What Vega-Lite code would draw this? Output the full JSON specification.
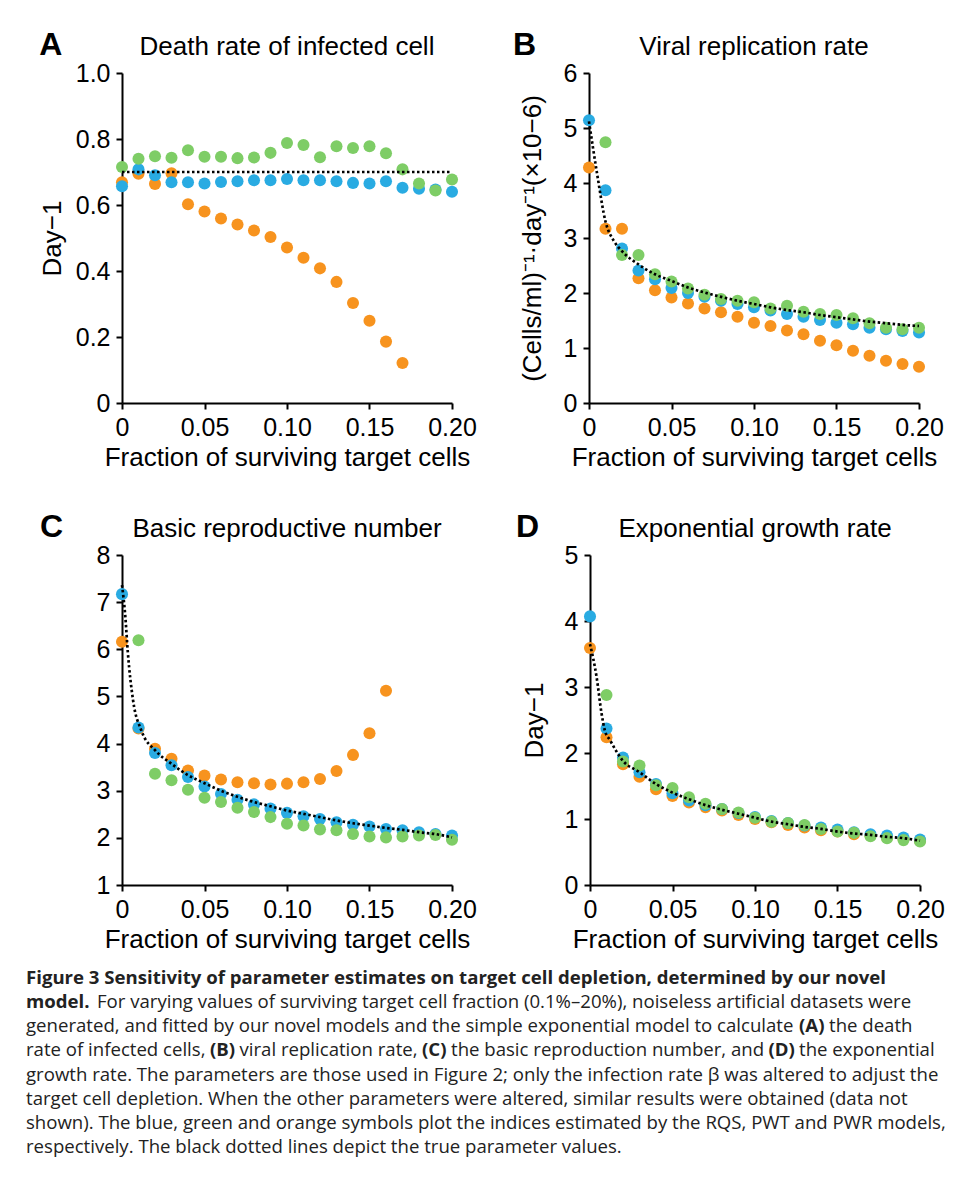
{
  "$schema": "https://vega.github.io/schema/vega-lite/v6.json",
  "background": "white",
  "padding": {"left": 26, "top": 29, "right": 5, "bottom": 0},
  "config": {
    "font": "Liberation Sans",
    "view": {"stroke": null},
    "axis": {
      "domainColor": "#000", "domainWidth": 2, "tickColor": "#000", "tickWidth": 2, "tickSize": 6,
      "labelFont": "Liberation Sans", "labelFontSize": 25, "labelColor": "#000", "labelPadding": 6,
      "titleFont": "Liberation Sans", "titleFontSize": 26, "titleFontWeight": "normal", "titleColor": "#000",
      "titlePadding": 4, "grid": false, "labelFlush": false, "labelOverlap": false
    },
    "title": {"font": "Liberation Sans", "color": "#000"}
  },
  "datasets": {
    "A_pts": [
      {"f":0,"v":0.669,"m":"PWR"},{"f":0.01,"v":0.695,"m":"PWR"},{"f":0.02,"v":0.664,"m":"PWR"},{"f":0.03,"v":0.696,"m":"PWR"},{"f":0.04,"v":0.602,"m":"PWR"},{"f":0.05,"v":0.58,"m":"PWR"},{"f":0.06,"v":0.559,"m":"PWR"},{"f":0.07,"v":0.541,"m":"PWR"},{"f":0.08,"v":0.523,"m":"PWR"},{"f":0.09,"v":0.503,"m":"PWR"},{"f":0.1,"v":0.471,"m":"PWR"},{"f":0.11,"v":0.44,"m":"PWR"},{"f":0.12,"v":0.408,"m":"PWR"},{"f":0.13,"v":0.367,"m":"PWR"},{"f":0.14,"v":0.303,"m":"PWR"},{"f":0.15,"v":0.249,"m":"PWR"},{"f":0.16,"v":0.186,"m":"PWR"},{"f":0.17,"v":0.121,"m":"PWR"},
      {"f":0,"v":0.657,"m":"RQS"},{"f":0.01,"v":0.708,"m":"RQS"},{"f":0.02,"v":0.69,"m":"RQS"},{"f":0.03,"v":0.669,"m":"RQS"},{"f":0.04,"v":0.669,"m":"RQS"},{"f":0.05,"v":0.665,"m":"RQS"},{"f":0.06,"v":0.67,"m":"RQS"},{"f":0.07,"v":0.672,"m":"RQS"},{"f":0.08,"v":0.675,"m":"RQS"},{"f":0.09,"v":0.675,"m":"RQS"},{"f":0.1,"v":0.679,"m":"RQS"},{"f":0.11,"v":0.675,"m":"RQS"},{"f":0.12,"v":0.675,"m":"RQS"},{"f":0.13,"v":0.672,"m":"RQS"},{"f":0.14,"v":0.667,"m":"RQS"},{"f":0.15,"v":0.665,"m":"RQS"},{"f":0.16,"v":0.672,"m":"RQS"},{"f":0.17,"v":0.652,"m":"RQS"},{"f":0.18,"v":0.649,"m":"RQS"},{"f":0.19,"v":0.647,"m":"RQS"},{"f":0.2,"v":0.64,"m":"RQS"},
      {"f":0,"v":0.715,"m":"PWT"},{"f":0.01,"v":0.74,"m":"PWT"},{"f":0.02,"v":0.748,"m":"PWT"},{"f":0.03,"v":0.743,"m":"PWT"},{"f":0.04,"v":0.766,"m":"PWT"},{"f":0.05,"v":0.746,"m":"PWT"},{"f":0.06,"v":0.746,"m":"PWT"},{"f":0.07,"v":0.742,"m":"PWT"},{"f":0.08,"v":0.744,"m":"PWT"},{"f":0.09,"v":0.758,"m":"PWT"},{"f":0.1,"v":0.788,"m":"PWT"},{"f":0.11,"v":0.782,"m":"PWT"},{"f":0.12,"v":0.745,"m":"PWT"},{"f":0.13,"v":0.778,"m":"PWT"},{"f":0.14,"v":0.773,"m":"PWT"},{"f":0.15,"v":0.778,"m":"PWT"},{"f":0.16,"v":0.757,"m":"PWT"},{"f":0.17,"v":0.708,"m":"PWT"},{"f":0.18,"v":0.665,"m":"PWT"},{"f":0.19,"v":0.644,"m":"PWT"},{"f":0.2,"v":0.677,"m":"PWT"}
    ],
    "A_true": [{"f":0,"v":0.7},{"f":0.2,"v":0.7}],
    "B_pts": [
      {"f":0,"v":4.28,"m":"PWR"},{"f":0.01,"v":3.17,"m":"PWR"},{"f":0.02,"v":3.17,"m":"PWR"},{"f":0.03,"v":2.27,"m":"PWR"},{"f":0.04,"v":2.05,"m":"PWR"},{"f":0.05,"v":1.92,"m":"PWR"},{"f":0.06,"v":1.81,"m":"PWR"},{"f":0.07,"v":1.72,"m":"PWR"},{"f":0.08,"v":1.65,"m":"PWR"},{"f":0.09,"v":1.57,"m":"PWR"},{"f":0.1,"v":1.46,"m":"PWR"},{"f":0.11,"v":1.4,"m":"PWR"},{"f":0.12,"v":1.32,"m":"PWR"},{"f":0.13,"v":1.25,"m":"PWR"},{"f":0.14,"v":1.13,"m":"PWR"},{"f":0.15,"v":1.05,"m":"PWR"},{"f":0.16,"v":0.95,"m":"PWR"},{"f":0.17,"v":0.86,"m":"PWR"},{"f":0.18,"v":0.77,"m":"PWR"},{"f":0.19,"v":0.71,"m":"PWR"},{"f":0.2,"v":0.66,"m":"PWR"},
      {"f":0,"v":5.14,"m":"RQS"},{"f":0.01,"v":3.87,"m":"RQS"},{"f":0.02,"v":2.81,"m":"RQS"},{"f":0.03,"v":2.41,"m":"RQS"},{"f":0.04,"v":2.25,"m":"RQS"},{"f":0.05,"v":2.09,"m":"RQS"},{"f":0.06,"v":2.0,"m":"RQS"},{"f":0.07,"v":1.93,"m":"RQS"},{"f":0.08,"v":1.86,"m":"RQS"},{"f":0.09,"v":1.8,"m":"RQS"},{"f":0.1,"v":1.74,"m":"RQS"},{"f":0.11,"v":1.68,"m":"RQS"},{"f":0.12,"v":1.62,"m":"RQS"},{"f":0.13,"v":1.57,"m":"RQS"},{"f":0.14,"v":1.51,"m":"RQS"},{"f":0.15,"v":1.46,"m":"RQS"},{"f":0.16,"v":1.43,"m":"RQS"},{"f":0.17,"v":1.37,"m":"RQS"},{"f":0.18,"v":1.34,"m":"RQS"},{"f":0.19,"v":1.31,"m":"RQS"},{"f":0.2,"v":1.28,"m":"RQS"},
      {"f":0.01,"v":4.74,"m":"PWT"},{"f":0.02,"v":2.69,"m":"PWT"},{"f":0.03,"v":2.69,"m":"PWT"},{"f":0.04,"v":2.34,"m":"PWT"},{"f":0.05,"v":2.21,"m":"PWT"},{"f":0.06,"v":2.08,"m":"PWT"},{"f":0.07,"v":1.97,"m":"PWT"},{"f":0.08,"v":1.89,"m":"PWT"},{"f":0.09,"v":1.86,"m":"PWT"},{"f":0.1,"v":1.83,"m":"PWT"},{"f":0.11,"v":1.72,"m":"PWT"},{"f":0.12,"v":1.77,"m":"PWT"},{"f":0.13,"v":1.66,"m":"PWT"},{"f":0.14,"v":1.62,"m":"PWT"},{"f":0.15,"v":1.6,"m":"PWT"},{"f":0.16,"v":1.54,"m":"PWT"},{"f":0.17,"v":1.45,"m":"PWT"},{"f":0.18,"v":1.37,"m":"PWT"},{"f":0.19,"v":1.34,"m":"PWT"},{"f":0.2,"v":1.37,"m":"PWT"}
    ],
    "B_true": [{"f":0,"v":5.12},{"f":0.005,"v":4.15},{"f":0.01,"v":3.3},{"f":0.015,"v":2.95},{"f":0.02,"v":2.76},{"f":0.03,"v":2.52},{"f":0.04,"v":2.34},{"f":0.05,"v":2.22},{"f":0.06,"v":2.1},{"f":0.07,"v":2.01},{"f":0.08,"v":1.93},{"f":0.09,"v":1.86},{"f":0.1,"v":1.8},{"f":0.11,"v":1.74},{"f":0.12,"v":1.69},{"f":0.13,"v":1.65},{"f":0.14,"v":1.6},{"f":0.15,"v":1.56},{"f":0.16,"v":1.52},{"f":0.17,"v":1.48},{"f":0.18,"v":1.45},{"f":0.19,"v":1.42},{"f":0.2,"v":1.4}],
    "C_pts": [
      {"f":0,"v":6.16,"m":"PWR"},{"f":0.01,"v":4.32,"m":"PWR"},{"f":0.02,"v":3.89,"m":"PWR"},{"f":0.03,"v":3.68,"m":"PWR"},{"f":0.04,"v":3.43,"m":"PWR"},{"f":0.05,"v":3.32,"m":"PWR"},{"f":0.06,"v":3.24,"m":"PWR"},{"f":0.07,"v":3.18,"m":"PWR"},{"f":0.08,"v":3.16,"m":"PWR"},{"f":0.09,"v":3.13,"m":"PWR"},{"f":0.1,"v":3.15,"m":"PWR"},{"f":0.11,"v":3.18,"m":"PWR"},{"f":0.12,"v":3.25,"m":"PWR"},{"f":0.13,"v":3.42,"m":"PWR"},{"f":0.14,"v":3.76,"m":"PWR"},{"f":0.15,"v":4.22,"m":"PWR"},{"f":0.16,"v":5.12,"m":"PWR"},
      {"f":0,"v":7.17,"m":"RQS"},{"f":0.01,"v":4.34,"m":"RQS"},{"f":0.02,"v":3.8,"m":"RQS"},{"f":0.03,"v":3.54,"m":"RQS"},{"f":0.04,"v":3.29,"m":"RQS"},{"f":0.05,"v":3.09,"m":"RQS"},{"f":0.06,"v":2.93,"m":"RQS"},{"f":0.07,"v":2.81,"m":"RQS"},{"f":0.08,"v":2.71,"m":"RQS"},{"f":0.09,"v":2.62,"m":"RQS"},{"f":0.1,"v":2.53,"m":"RQS"},{"f":0.11,"v":2.46,"m":"RQS"},{"f":0.12,"v":2.4,"m":"RQS"},{"f":0.13,"v":2.33,"m":"RQS"},{"f":0.14,"v":2.28,"m":"RQS"},{"f":0.15,"v":2.24,"m":"RQS"},{"f":0.16,"v":2.19,"m":"RQS"},{"f":0.17,"v":2.16,"m":"RQS"},{"f":0.18,"v":2.12,"m":"RQS"},{"f":0.19,"v":2.08,"m":"RQS"},{"f":0.2,"v":2.05,"m":"RQS"},
      {"f":0.01,"v":6.19,"m":"PWT"},{"f":0.02,"v":3.36,"m":"PWT"},{"f":0.03,"v":3.22,"m":"PWT"},{"f":0.04,"v":3.02,"m":"PWT"},{"f":0.05,"v":2.85,"m":"PWT"},{"f":0.06,"v":2.76,"m":"PWT"},{"f":0.07,"v":2.64,"m":"PWT"},{"f":0.08,"v":2.55,"m":"PWT"},{"f":0.09,"v":2.44,"m":"PWT"},{"f":0.1,"v":2.3,"m":"PWT"},{"f":0.11,"v":2.26,"m":"PWT"},{"f":0.12,"v":2.18,"m":"PWT"},{"f":0.13,"v":2.16,"m":"PWT"},{"f":0.14,"v":2.08,"m":"PWT"},{"f":0.15,"v":2.03,"m":"PWT"},{"f":0.16,"v":2.01,"m":"PWT"},{"f":0.17,"v":2.03,"m":"PWT"},{"f":0.18,"v":2.05,"m":"PWT"},{"f":0.19,"v":2.06,"m":"PWT"},{"f":0.2,"v":1.96,"m":"PWT"}
    ],
    "C_true": [{"f":0,"v":7.36},{"f":0.002,"v":6.7},{"f":0.0035,"v":5.95},{"f":0.0067,"v":4.92},{"f":0.0117,"v":4.28},{"f":0.02,"v":3.86},{"f":0.03,"v":3.57},{"f":0.04,"v":3.33},{"f":0.05,"v":3.16},{"f":0.06,"v":3.0},{"f":0.07,"v":2.87},{"f":0.08,"v":2.76},{"f":0.09,"v":2.67},{"f":0.1,"v":2.58},{"f":0.11,"v":2.51},{"f":0.12,"v":2.44},{"f":0.13,"v":2.37},{"f":0.14,"v":2.31},{"f":0.15,"v":2.26},{"f":0.16,"v":2.21},{"f":0.17,"v":2.17},{"f":0.18,"v":2.12},{"f":0.19,"v":2.08},{"f":0.2,"v":2.01}],
    "D_pts": [
      {"f":0,"v":3.59,"m":"PWR"},{"f":0.01,"v":2.24,"m":"PWR"},{"f":0.02,"v":1.83,"m":"PWR"},{"f":0.03,"v":1.64,"m":"PWR"},{"f":0.04,"v":1.45,"m":"PWR"},{"f":0.05,"v":1.35,"m":"PWR"},{"f":0.06,"v":1.25,"m":"PWR"},{"f":0.07,"v":1.18,"m":"PWR"},{"f":0.08,"v":1.13,"m":"PWR"},{"f":0.09,"v":1.06,"m":"PWR"},{"f":0.1,"v":1.0,"m":"PWR"},{"f":0.11,"v":0.95,"m":"PWR"},{"f":0.12,"v":0.91,"m":"PWR"},{"f":0.13,"v":0.87,"m":"PWR"},{"f":0.14,"v":0.83,"m":"PWR"},{"f":0.15,"v":0.81,"m":"PWR"},{"f":0.16,"v":0.77,"m":"PWR"},{"f":0.17,"v":0.75,"m":"PWR"},{"f":0.18,"v":0.72,"m":"PWR"},{"f":0.19,"v":0.7,"m":"PWR"},{"f":0.2,"v":0.67,"m":"PWR"},
      {"f":0,"v":4.07,"m":"RQS"},{"f":0.01,"v":2.37,"m":"RQS"},{"f":0.02,"v":1.93,"m":"RQS"},{"f":0.03,"v":1.71,"m":"RQS"},{"f":0.04,"v":1.53,"m":"RQS"},{"f":0.05,"v":1.39,"m":"RQS"},{"f":0.06,"v":1.28,"m":"RQS"},{"f":0.07,"v":1.21,"m":"RQS"},{"f":0.08,"v":1.15,"m":"RQS"},{"f":0.09,"v":1.09,"m":"RQS"},{"f":0.1,"v":1.03,"m":"RQS"},{"f":0.11,"v":0.97,"m":"RQS"},{"f":0.12,"v":0.94,"m":"RQS"},{"f":0.13,"v":0.9,"m":"RQS"},{"f":0.14,"v":0.87,"m":"RQS"},{"f":0.15,"v":0.84,"m":"RQS"},{"f":0.16,"v":0.8,"m":"RQS"},{"f":0.17,"v":0.77,"m":"RQS"},{"f":0.18,"v":0.75,"m":"RQS"},{"f":0.19,"v":0.72,"m":"RQS"},{"f":0.2,"v":0.69,"m":"RQS"},
      {"f":0.01,"v":2.88,"m":"PWT"},{"f":0.02,"v":1.87,"m":"PWT"},{"f":0.03,"v":1.81,"m":"PWT"},{"f":0.04,"v":1.51,"m":"PWT"},{"f":0.05,"v":1.47,"m":"PWT"},{"f":0.06,"v":1.33,"m":"PWT"},{"f":0.07,"v":1.23,"m":"PWT"},{"f":0.08,"v":1.15,"m":"PWT"},{"f":0.09,"v":1.1,"m":"PWT"},{"f":0.1,"v":1.02,"m":"PWT"},{"f":0.11,"v":0.96,"m":"PWT"},{"f":0.12,"v":0.94,"m":"PWT"},{"f":0.13,"v":0.91,"m":"PWT"},{"f":0.14,"v":0.85,"m":"PWT"},{"f":0.15,"v":0.81,"m":"PWT"},{"f":0.16,"v":0.79,"m":"PWT"},{"f":0.17,"v":0.74,"m":"PWT"},{"f":0.18,"v":0.71,"m":"PWT"},{"f":0.19,"v":0.68,"m":"PWT"},{"f":0.2,"v":0.66,"m":"PWT"}
    ],
    "D_true": [{"f":0,"v":3.65},{"f":0.004,"v":3.15},{"f":0.007,"v":2.6},{"f":0.009,"v":2.34},{"f":0.012,"v":2.2},{"f":0.02,"v":1.88},{"f":0.03,"v":1.71},{"f":0.04,"v":1.53},{"f":0.05,"v":1.4},{"f":0.06,"v":1.3},{"f":0.07,"v":1.21},{"f":0.08,"v":1.14},{"f":0.09,"v":1.08},{"f":0.1,"v":1.02},{"f":0.11,"v":0.96},{"f":0.12,"v":0.92},{"f":0.13,"v":0.88},{"f":0.14,"v":0.85},{"f":0.15,"v":0.81},{"f":0.16,"v":0.78},{"f":0.17,"v":0.76},{"f":0.18,"v":0.73},{"f":0.19,"v":0.71},{"f":0.2,"v":0.67}],
    "cap": [
      {"line":1,"s":"b0","t":"Figure 3 Sensitivity of parameter estimates on target cell depletion, determined by our novel"},
      {"line":2,"s":"b0","t":"model."},
      {"line":2,"s":"r1","t":"For varying values of surviving target cell fraction (0.1%–20%), noiseless artificial datasets were"},
      {"line":3,"s":"r0","t":"generated, and fitted by our novel models and the simple exponential model to calculate"},
      {"line":3,"s":"bA","t":"(A)"},
      {"line":3,"s":"rA","t":"the death"},
      {"line":4,"s":"r0","t":"rate of infected cells,"},
      {"line":4,"s":"bB","t":"(B)"},
      {"line":4,"s":"rB","t":"viral replication rate,"},
      {"line":4,"s":"bC","t":"(C)"},
      {"line":4,"s":"rC","t":"the basic reproduction number, and"},
      {"line":4,"s":"bD","t":"(D)"},
      {"line":4,"s":"rD","t":"the exponential"},
      {"line":5,"s":"r0","t":"growth rate. The parameters are those used in Figure 2; only the infection rate β was altered to adjust the"},
      {"line":6,"s":"r0","t":"target cell depletion. When the other parameters were altered, similar results were obtained (data not"},
      {"line":7,"s":"r0","t":"shown). The blue, green and orange symbols plot the indices estimated by the RQS, PWT and PWR models,"},
      {"line":8,"s":"r0","t":"respectively. The black dotted lines depict the true parameter values."}
    ]
  },
  "vconcat": [
    {
      "spacing": 41,
      "vconcat": [
        {
          "spacing": 36,
          "hconcat": [
            {
              "title": {"text": "A", "anchor": "start", "fontSize": 32, "fontWeight": "bold", "offset": 0, "dy": 28, "dx": 0},
              "vconcat": [{
                "width": 330, "height": 330,
                "title": {"text": "Death rate of infected cell", "fontSize": 26, "fontWeight": "normal", "offset": 1},
                "layer": [
                  {"data": {"name": "A_pts"}, "mark": {"type": "circle", "size": 145, "opacity": 1},
                   "encoding": {
                     "x": {"field": "f", "type": "quantitative", "scale": {"domain": [0, 0.2], "nice": false}, "axis": {"values": [0, 0.05, 0.1, 0.15, 0.2], "labelExpr": "datum.value == 0 ? '0' : format(datum.value, '.2f')", "title": "Fraction of surviving target cells"}},
                     "y": {"field": "v", "type": "quantitative", "scale": {"domain": [0, 1], "nice": false}, "axis": {"values": [0, 0.2, 0.4, 0.6, 0.8, 1], "labelExpr": "datum.value == 0 ? '0' : format(datum.value, '.1f')", "title": "Day−1", "titlePadding": 10}},
                     "color": {"field": "m", "type": "nominal", "scale": {"domain": ["PWR", "RQS", "PWT"], "range": ["#f7931e", "#29abe2", "#7ecd66"]}, "legend": null}
                   }},
                  {"data": {"name": "A_true"}, "mark": {"type": "line", "color": "#000", "strokeWidth": 2.7, "strokeDash": [2.5, 2.5]},
                   "encoding": {"x": {"field": "f", "type": "quantitative"}, "y": {"field": "v", "type": "quantitative"}}}
                ]
              }]
            },
            {
              "title": {"text": "B", "anchor": "start", "fontSize": 32, "fontWeight": "bold", "offset": 0, "dy": 28, "dx": -6},
              "vconcat": [{
                "width": 330, "height": 330,
                "title": {"text": "Viral replication rate", "fontSize": 26, "fontWeight": "normal", "offset": 1},
                "layer": [
                  {"data": {"name": "B_pts"}, "mark": {"type": "circle", "size": 145, "opacity": 1},
                   "encoding": {
                     "x": {"field": "f", "type": "quantitative", "scale": {"domain": [0, 0.2], "nice": false}, "axis": {"values": [0, 0.05, 0.1, 0.15, 0.2], "labelExpr": "datum.value == 0 ? '0' : format(datum.value, '.2f')", "title": "Fraction of surviving target cells"}},
                     "y": {"field": "v", "type": "quantitative", "scale": {"domain": [0, 6], "nice": false}, "axis": {"values": [0, 1, 2, 3, 4, 5, 6], "format": "d", "title": "(Cells/ml)⁻¹·day⁻¹(×10−6)", "titleFontSize": 26, "titlePadding": 18}},
                     "color": {"field": "m", "type": "nominal", "scale": {"domain": ["PWR", "RQS", "PWT"], "range": ["#f7931e", "#29abe2", "#7ecd66"]}, "legend": null}
                   }},
                  {"data": {"name": "B_true"}, "mark": {"type": "line", "color": "#000", "strokeWidth": 2.7, "strokeDash": [2.5, 2.5], "interpolate": "monotone"},
                   "encoding": {"x": {"field": "f", "type": "quantitative"}, "y": {"field": "v", "type": "quantitative"}}}
                ]
              }]
            }
          ]
        },
        {
          "spacing": 39,
          "hconcat": [
            {
              "title": {"text": "C", "anchor": "start", "fontSize": 32, "fontWeight": "bold", "offset": 0, "dy": 28, "dx": -56},
              "vconcat": [{
                "width": 330, "height": 330,
                "title": {"text": "Basic reproductive number", "fontSize": 26, "fontWeight": "normal", "offset": 1},
                "layer": [
                  {"data": {"name": "C_pts"}, "mark": {"type": "circle", "size": 145, "opacity": 1},
                   "encoding": {
                     "x": {"field": "f", "type": "quantitative", "scale": {"domain": [0, 0.2], "nice": false}, "axis": {"values": [0, 0.05, 0.1, 0.15, 0.2], "labelExpr": "datum.value == 0 ? '0' : format(datum.value, '.2f')", "title": "Fraction of surviving target cells"}},
                     "y": {"field": "v", "type": "quantitative", "scale": {"domain": [1, 8], "nice": false, "zero": false}, "axis": {"values": [1, 2, 3, 4, 5, 6, 7, 8], "format": "d", "title": null}},
                     "color": {"field": "m", "type": "nominal", "scale": {"domain": ["PWR", "RQS", "PWT"], "range": ["#f7931e", "#29abe2", "#7ecd66"]}, "legend": null}
                   }},
                  {"data": {"name": "C_true"}, "mark": {"type": "line", "color": "#000", "strokeWidth": 2.7, "strokeDash": [2.5, 2.5], "interpolate": "monotone"},
                   "encoding": {"x": {"field": "f", "type": "quantitative"}, "y": {"field": "v", "type": "quantitative"}}}
                ]
              }]
            },
            {
              "title": {"text": "D", "anchor": "start", "fontSize": 32, "fontWeight": "bold", "offset": 0, "dy": 28, "dx": -5},
              "vconcat": [{
                "width": 330, "height": 330,
                "title": {"text": "Exponential growth rate", "fontSize": 26, "fontWeight": "normal", "offset": 1},
                "layer": [
                  {"data": {"name": "D_pts"}, "mark": {"type": "circle", "size": 145, "opacity": 1},
                   "encoding": {
                     "x": {"field": "f", "type": "quantitative", "scale": {"domain": [0, 0.2], "nice": false}, "axis": {"values": [0, 0.05, 0.1, 0.15, 0.2], "labelExpr": "datum.value == 0 ? '0' : format(datum.value, '.2f')", "title": "Fraction of surviving target cells"}},
                     "y": {"field": "v", "type": "quantitative", "scale": {"domain": [0, 5], "nice": false}, "axis": {"values": [0, 1, 2, 3, 4, 5], "format": "d", "title": "Day−1", "titlePadding": 17}},
                     "color": {"field": "m", "type": "nominal", "scale": {"domain": ["PWR", "RQS", "PWT"], "range": ["#f7931e", "#29abe2", "#7ecd66"]}, "legend": null}
                   }},
                  {"data": {"name": "D_true"}, "mark": {"type": "line", "color": "#000", "strokeWidth": 2.7, "strokeDash": [2.5, 2.5], "interpolate": "monotone"},
                   "encoding": {"x": {"field": "f", "type": "quantitative"}, "y": {"field": "v", "type": "quantitative"}}}
                ]
              }]
            }
          ]
        }
      ]
    },
    {
      "width": 800, "height": 193,
      "data": {"name": "cap"},
      "encoding": {
        "y": {"field": "line", "type": "ordinal", "scale": {"type": "point", "padding": 0.5, "domain": [1, 2, 3, 4, 5, 6, 7, 8]}, "axis": null},
        "x": {"datum": 0, "type": "quantitative", "scale": {"domain": [0, 1]}, "axis": null},
        "text": {"field": "t"}
      },
      "layer": [
        {"transform": [{"filter": "datum.s == 'b0'"}], "mark": {"type": "text", "align": "left", "baseline": "alphabetic", "font": "Open Sans", "fontSize": 18.6, "fontWeight": "bold", "color": "#222", "dx": -96}},
        {"transform": [{"filter": "datum.s == 'r0'"}], "mark": {"type": "text", "align": "left", "baseline": "alphabetic", "font": "Open Sans", "fontSize": 18.6, "color": "#222", "dx": -96}},
        {"transform": [{"filter": "datum.s == 'r1'"}], "mark": {"type": "text", "align": "left", "baseline": "alphabetic", "font": "Open Sans", "fontSize": 18.6, "color": "#222", "dx": -25}},
        {"transform": [{"filter": "datum.s == 'bA'"}], "mark": {"type": "text", "align": "left", "baseline": "alphabetic", "font": "Open Sans", "fontSize": 18.6, "fontWeight": "bold", "color": "#222", "dx": 677}},
        {"transform": [{"filter": "datum.s == 'rA'"}], "mark": {"type": "text", "align": "left", "baseline": "alphabetic", "font": "Open Sans", "fontSize": 18.6, "color": "#222", "dx": 707}},
        {"transform": [{"filter": "datum.s == 'bB'"}], "mark": {"type": "text", "align": "left", "baseline": "alphabetic", "font": "Open Sans", "fontSize": 18.6, "fontWeight": "bold", "color": "#222", "dx": 88}},
        {"transform": [{"filter": "datum.s == 'rB'"}], "mark": {"type": "text", "align": "left", "baseline": "alphabetic", "font": "Open Sans", "fontSize": 18.6, "color": "#222", "dx": 117.5}},
        {"transform": [{"filter": "datum.s == 'bC'"}], "mark": {"type": "text", "align": "left", "baseline": "alphabetic", "font": "Open Sans", "fontSize": 18.6, "fontWeight": "bold", "color": "#222", "dx": 300}},
        {"transform": [{"filter": "datum.s == 'rC'"}], "mark": {"type": "text", "align": "left", "baseline": "alphabetic", "font": "Open Sans", "fontSize": 18.6, "color": "#222", "dx": 329}},
        {"transform": [{"filter": "datum.s == 'bD'"}], "mark": {"type": "text", "align": "left", "baseline": "alphabetic", "font": "Open Sans", "fontSize": 18.6, "fontWeight": "bold", "color": "#222", "dx": 646.5}},
        {"transform": [{"filter": "datum.s == 'rD'"}], "mark": {"type": "text", "align": "left", "baseline": "alphabetic", "font": "Open Sans", "fontSize": 18.6, "color": "#222", "dx": 677}}
      ]
    }
  ],
  "spacing": 17
}
